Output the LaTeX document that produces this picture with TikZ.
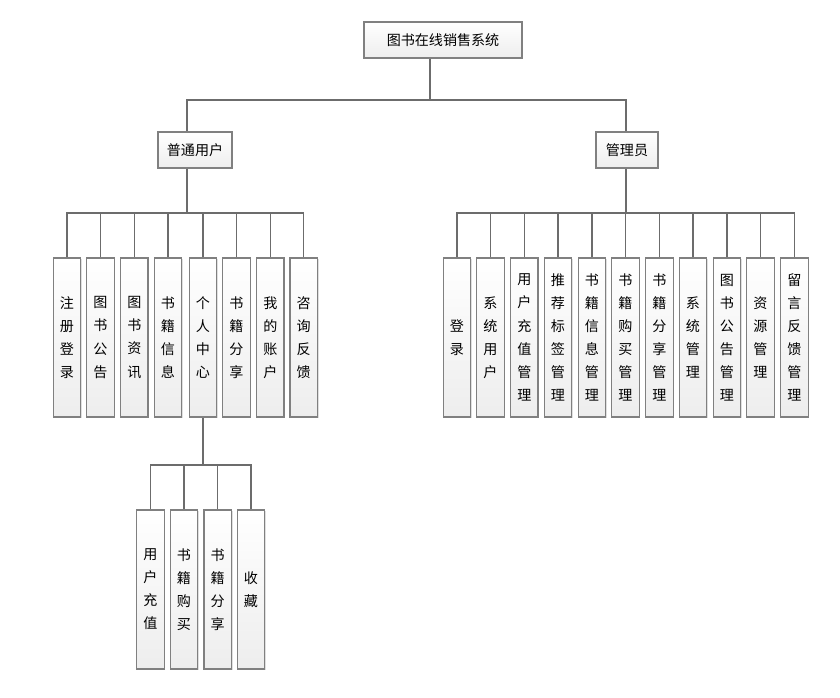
\documentclass[tikz,border=0pt]{standalone}
\usepackage{fontspec}
\setmainfont{Noto Sans CJK SC}
\usetikzlibrary{shadows}

\begin{document}
\begin{tikzpicture}[x=0.025cm,y=-0.025cm,
        box/.style={rectangle,draw=gray,line width=0.9pt,top color=white,bottom color=gray!14,
            drop shadow={shadow xshift=0.8pt,shadow yshift=-0.8pt,opacity=0.25},
            font=\fontsize{10}{16.4}\selectfont,align=center,inner sep=0pt},
        hbox/.style={box,minimum height=0.9cm},
        vbox/.style={box,minimum width=0.69cm,minimum height=3.98cm},
        link/.style={draw=gray!85!black,line width=0.8pt}]
        \useasboundingbox (0,0) rectangle (840,697);

        % Top levels
        \node[hbox,minimum width=3.95cm] (root) at (443,40) {图书在线销售系统};
        \node[hbox,minimum width=1.85cm] (user) at (195,150) {普通用户};
        \node[hbox,minimum width=1.55cm] (admin) at (627,150) {管理员};

        % Bus points
        \coordinate (rootBus) at (430,100);
        \coordinate (userBus) at (187,213);
        \coordinate (adminBus) at (626,213);
        \coordinate (centerBus) at (203,465);

        % Ordinary user children
        \node[vbox] (uReg) at (67,337.5) {注\\册\\登\\录};
        \node[vbox] (uNotice) at (100.5,337.5) {图\\书\\公\\告};
        \node[vbox] (uNews) at (134.3,337.5) {图\\书\\资\\讯};
        \node[vbox] (uBook) at (168,337.5) {书\\籍\\信\\息};
        \node[vbox] (uCenter) at (203,337.5) {个\\人\\中\\心};
        \node[vbox] (uShare) at (236.5,337.5) {书\\籍\\分\\享};
        \node[vbox] (uAccount) at (270.3,337.5) {我\\的\\账\\户};
        \node[vbox] (uConsult) at (303.7,337.5) {咨\\询\\反\\馈};

        % Personal center children
        \node[vbox] (cRecharge) at (150.5,589.5) {用\\户\\充\\值};
        \node[vbox] (cBuy) at (184,589.5) {书\\籍\\购\\买};
        \node[vbox] (cShare) at (217.7,589.5) {书\\籍\\分\\享};
        \node[vbox] (cFav) at (251,589.5) {收\\藏};

        % Admin children
        \node[vbox] (aLogin) at (457,337.5) {登\\录};
        \node[vbox] (aUser) at (490.5,337.5) {系\\统\\用\\户};
        \node[vbox] (aRecharge) at (524.3,337.5) {用\\户\\充\\值\\管\\理};
        \node[vbox] (aTag) at (558,337.5) {推\\荐\\标\\签\\管\\理};
        \node[vbox] (aBook) at (592,337.5) {书\\籍\\信\\息\\管\\理};
        \node[vbox] (aBuy) at (625.5,337.5) {书\\籍\\购\\买\\管\\理};
        \node[vbox] (aShare) at (659.5,337.5) {书\\籍\\分\\享\\管\\理};
        \node[vbox] (aSystem) at (693,337.5) {系\\统\\管\\理};
        \node[vbox] (aNotice) at (727,337.5) {图\\书\\公\\告\\管\\理};
        \node[vbox] (aRes) at (760.5,337.5) {资\\源\\管\\理};
        \node[vbox] (aFeedback) at (794.5,337.5) {留\\言\\反\\馈\\管\\理};

        % Root links
        \draw[link] (root.south -| rootBus) -- (rootBus);
        \draw[link] (rootBus) -| (user.north -| userBus);
        \draw[link] (rootBus) -| (admin.north -| adminBus);

        % User links
        \draw[link] (user.south -| userBus) -- (userBus);
        \draw[link] (userBus) -| (uReg.north);
        \draw[link] (userBus) -| (uNotice.north);
        \draw[link] (userBus) -| (uNews.north);
        \draw[link] (userBus) -| (uBook.north);
        \draw[link] (userBus) -| (uCenter.north);
        \draw[link] (userBus) -| (uShare.north);
        \draw[link] (userBus) -| (uAccount.north);
        \draw[link] (userBus) -| (uConsult.north);

        % Personal center links
        \draw[link] (uCenter.south) -- (centerBus);
        \draw[link] (centerBus) -| (cRecharge.north);
        \draw[link] (centerBus) -| (cBuy.north);
        \draw[link] (centerBus) -| (cShare.north);
        \draw[link] (centerBus) -| (cFav.north);

        % Admin links
        \draw[link] (admin.south -| adminBus) -- (adminBus);
        \draw[link] (adminBus) -| (aLogin.north);
        \draw[link] (adminBus) -| (aUser.north);
        \draw[link] (adminBus) -| (aRecharge.north);
        \draw[link] (adminBus) -| (aTag.north);
        \draw[link] (adminBus) -| (aBook.north);
        \draw[link] (adminBus) -| (aBuy.north);
        \draw[link] (adminBus) -| (aShare.north);
        \draw[link] (adminBus) -| (aSystem.north);
        \draw[link] (adminBus) -| (aNotice.north);
        \draw[link] (adminBus) -| (aRes.north);
        \draw[link] (adminBus) -| (aFeedback.north);
\end{tikzpicture}
\end{document}
